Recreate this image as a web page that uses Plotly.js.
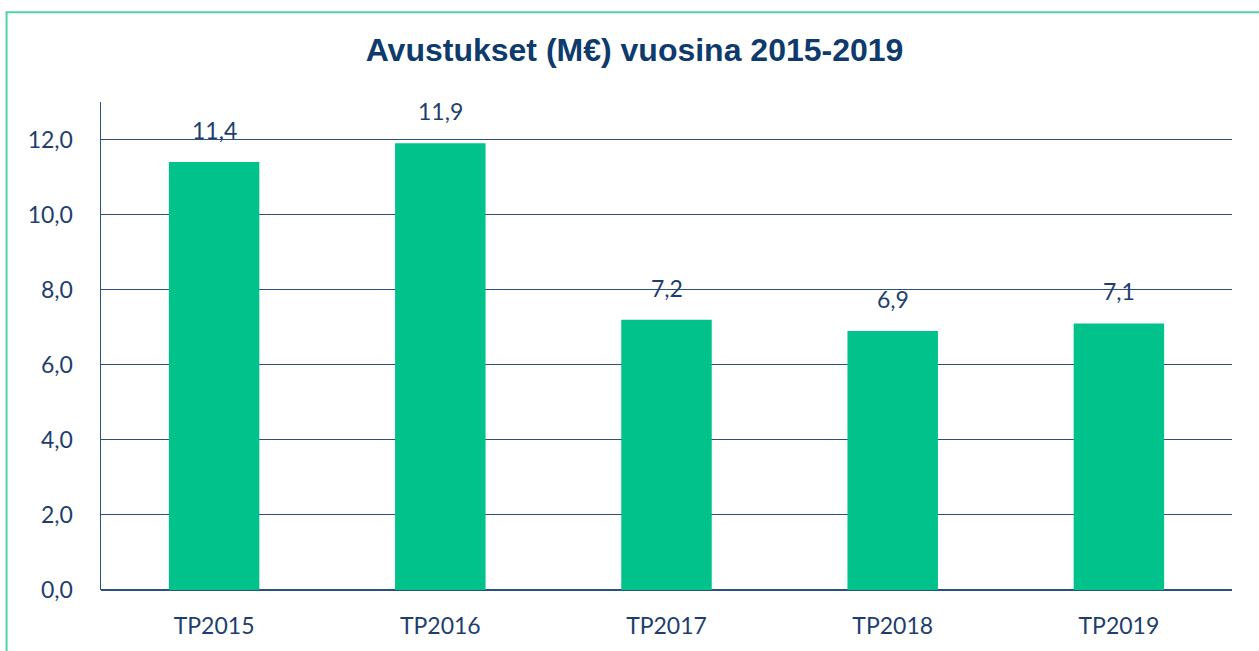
<!DOCTYPE html>
<html>
<head>
<meta charset="utf-8">
<script src="https://cdn.plot.ly/plotly-3.0.1.min.js"></script>
<style>
  html, body { margin: 0; padding: 0; background: #ffffff; }
  #chart { width: 1259px; height: 651px; }
</style>
</head>
<body>
<div id="chart"></div>
<script>
const categories = ["TP2015", "TP2016", "TP2017", "TP2018", "TP2019"];
const values = [11.4, 11.9, 7.2, 6.9, 7.1];
const yTickValues = [0, 2, 4, 6, 8, 10, 12];
const titleText = "Avustukset (M€) vuosina 2015-2019";

const textColor = "#1d3e6e";
const gridColor = "#2a5080";
const barColor = "#00c28a";

const fmt = v => v.toFixed(1).replace(".", ",");

const trace = {
  type: "bar",
  x: categories,
  y: values,
  marker: { color: barColor, line: { color: "#0a8f78", width: 0 } },
  hoverinfo: "none"
};

const annotations = categories.map((c, i) => ({
  x: c,
  y: values[i],
  xref: "x",
  yref: "y",
  text: fmt(values[i]),
  showarrow: false,
  yanchor: "middle",
  yshift: 32,
  font: { family: "Lato, 'Open Sans', sans-serif", size: 23, color: textColor }
}));

const layout = {
  width: 1259,
  height: 651,
  margin: { l: 101, r: 27, t: 102, b: 61 },
  paper_bgcolor: "#ffffff",
  plot_bgcolor: "#ffffff",
  separators: ",.",
  showlegend: false,
  bargap: 0.6,
  title: {
    text: "<b>" + titleText + "</b>",
    xref: "container",
    yref: "container",
    x: 0.504,
    y: 0.923,
    xanchor: "center",
    yanchor: "middle",
    font: { family: "'Liberation Sans', Arial, sans-serif", size: 32, color: "#0e3a6c" }
  },
  xaxis: {
    type: "category",
    showgrid: false,
    zeroline: false,
    showline: false,
    ticks: "",
    ticklabelstandoff: 20,
    tickfont: { family: "Lato, 'Open Sans', sans-serif", size: 23, color: textColor }
  },
  yaxis: {
    range: [0, 13],
    tickvals: yTickValues,
    ticktext: yTickValues.map(fmt),
    showgrid: true,
    gridcolor: gridColor,
    gridwidth: 1,
    zeroline: true,
    zerolinecolor: gridColor,
    zerolinewidth: 1.5,
    showline: true,
    linecolor: gridColor,
    linewidth: 1.5,
    ticks: "",
    ticklabelstandoff: 22,
    tickfont: { family: "Lato, 'Open Sans', sans-serif", size: 23, color: textColor }
  },
  annotations: annotations,
  shapes: [{
    type: "rect",
    xref: "paper",
    yref: "paper",
    x0: -0.0835,
    x1: 1.2,
    y0: -0.3,
    y1: 1.184,
    line: { color: "#4fd3a5", width: 2 },
    fillcolor: "rgba(0,0,0,0)",
    layer: "below"
  }]
};

Plotly.newPlot("chart", [trace], layout, { displayModeBar: false, staticPlot: true });
</script>
</body>
</html>
